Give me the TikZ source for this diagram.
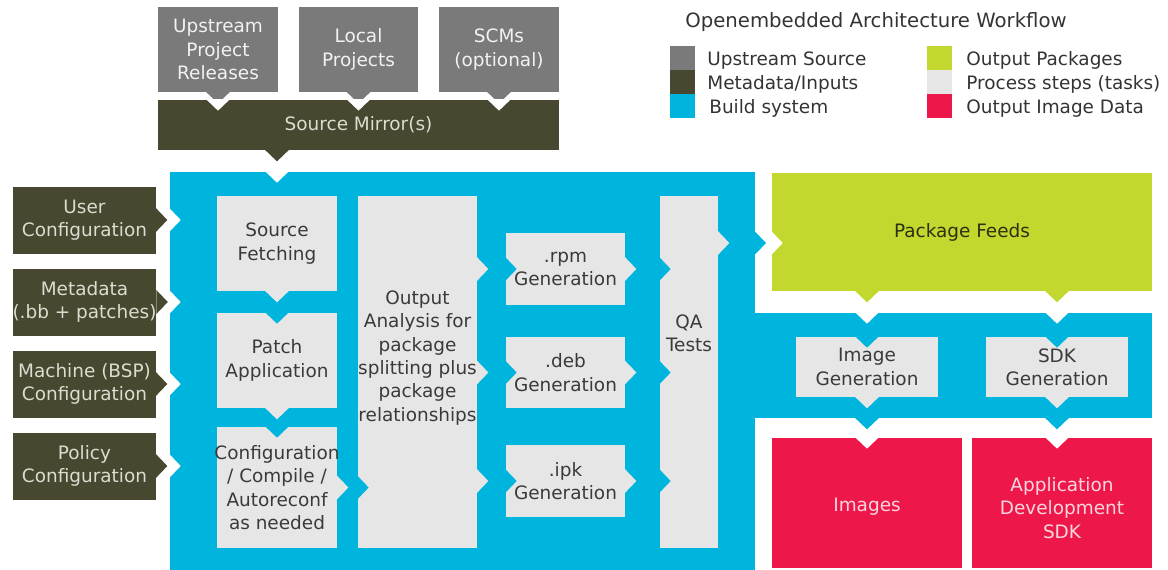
\documentclass[tikz,border=0pt]{standalone}
\usepackage{fontspec}
\setmainfont{DejaVu Sans}

\definecolor{upGray}{HTML}{7A7A7A}
\definecolor{upText}{HTML}{F2F2F2}
\definecolor{metaDark}{HTML}{48472F}
\definecolor{metaText}{HTML}{DCDCD0}
\definecolor{buildBlue}{HTML}{00B5DD}
\definecolor{feedGreen}{HTML}{C2D82F}
\definecolor{feedText}{HTML}{2C3011}
\definecolor{taskGray}{HTML}{E6E6E6}
\definecolor{taskText}{HTML}{3A3A3A}
\definecolor{imgRed}{HTML}{ED1849}
\definecolor{imgText}{HTML}{FCD6DF}
\definecolor{keyText}{HTML}{333333}

% chevron tips: #1 colour, #2 point on the box edge
\newcommand{\tipdown}[2]{\fill[#1] (#2) ++(-12,-0.5) -- ++(24,0) -- ++(-12,11.5) -- cycle;}
\newcommand{\tipright}[2]{\fill[#1] (#2) ++(-0.5,-12) -- ++(0,24) -- ++(11.5,-12) -- cycle;}
% flow: pointer on the source, notch in the target
\newcommand{\flowdown}[4]{\tipdown{#1}{#2}\tipdown{#3}{#4}}
\newcommand{\flowright}[4]{\tipright{#1}{#2}\tipright{#3}{#4}}

\begin{document}
\begin{tikzpicture}[x=0.02cm, y=-0.02cm,
    box/.style={rectangle, inner sep=0pt, align=center, font=\fontsize{10.5}{13.3}\selectfont},
    upstream/.style={box, fill=upGray, text=upText, minimum width=2.4cm, minimum height=1.7cm},
    inputbox/.style={box, fill=metaDark, text=metaText, minimum width=2.86cm, minimum height=1.34cm},
    task/.style={box, fill=taskGray, text=taskText},
    area/.style={box, fill=buildBlue},
    output/.style={box, fill=imgRed, text=imgText, minimum height=2.6cm},
    keybox/.style={rectangle, inner sep=0pt, minimum width=0.5cm, minimum height=0.48cm},
    keytext/.style={box, text=keyText, anchor=base west}
]
    \useasboundingbox (0,0) rectangle (1168,569);

    % Quellen
    \node[upstream] (upr) at (218,49.5) {Upstream\\Project\\Releases};
    \node[upstream] (loc) at (358.5,49.5) {Local\\Projects};
    \node[upstream] (scm) at (499,49.5) {SCMs\\(optional)};
    \node[box, fill=metaDark, text=metaText, minimum width=8.02cm, minimum height=1cm] (mirror) at (358.5,125) {Source Mirror(s)};

    % Eingaben
    \node[inputbox] (ucfg) at (84.5,220) {User\\Configuration};
    \node[inputbox] (meta) at (84.5,302) {Metadata\\(.bb + patches)};
    \node[inputbox] (mach) at (84.5,384) {Machine (BSP)\\Configuration};
    \node[inputbox] (pol) at (84.5,466) {Policy\\Configuration};

    % Build-System
    \node[area, minimum width=11.7cm, minimum height=7.96cm] (build) at (462.5,371) {};
    \node[area, minimum width=8.04cm, minimum height=2.1cm] (band) at (951,365.5) {};
    \coordinate (pkgout) at (755,243);

    % Tasks
    \node[task, minimum width=2.4cm, minimum height=1.9cm] (fetch) at (277,243.5) {Source\\Fetching};
    \node[task, minimum width=2.4cm, minimum height=1.9cm] (patch) at (277,360.5) {Patch\\Application};
    \node[task, minimum width=2.4cm, minimum height=2.42cm,
        label={[box, text=taskText]center:Configuration\\/ Compile /\\Autoreconf\\as needed}] (compile) at (277,487.5) {};
    \node[task, minimum width=2.38cm, minimum height=7.04cm,
        label={[box, text=taskText, yshift=0.28cm]center:Output\\Analysis for\\package\\splitting plus\\package\\relationships}] (analysis) at (417.5,372) {};
    \node[task, minimum width=2.38cm, minimum height=1.44cm] (rpm) at (565.5,269) {.rpm\\Generation};
    \node[task, minimum width=2.38cm, minimum height=1.42cm] (deb) at (565.5,372.5) {.deb\\Generation};
    \node[task, minimum width=2.38cm, minimum height=1.44cm] (ipk) at (565.5,481) {.ipk\\Generation};
    \node[task, minimum width=1.16cm, minimum height=7.04cm,
        label={[box, text=taskText, yshift=0.77cm]center:QA\\Tests}] (qa) at (689,372) {};
    \node[task, minimum width=2.84cm, minimum height=1.2cm] (imggen) at (867,367) {Image\\Generation};
    \node[task, minimum width=2.84cm, minimum height=1.2cm] (sdkgen) at (1057,367) {SDK\\Generation};

    % Ausgaben
    \node[box, fill=feedGreen, text=feedText, minimum width=7.6cm, minimum height=2.36cm] (feeds) at (962,232) {Package Feeds};
    \node[output, minimum width=3.8cm,
        label={[box, text=imgText, yshift=-0.08cm]center:Images}] (images) at (867,503) {};
    \node[output, minimum width=3.6cm,
        label={[box, text=imgText, yshift=-0.1cm]center:Application\\Development\\SDK}] (appsdk) at (1062,503) {};

    % Pfeile
    \flowdown{upGray}{upr.south}{white}{upr.south |- mirror.north}
    \flowdown{upGray}{loc.south}{white}{loc.south |- mirror.north}
    \flowdown{upGray}{scm.south}{white}{scm.south |- mirror.north}
    \flowdown{metaDark}{fetch |- mirror.south}{white}{fetch |- build.north}
    \flowright{metaDark}{ucfg.east}{white}{ucfg -| build.west}
    \flowright{metaDark}{meta.east}{white}{meta -| build.west}
    \flowright{metaDark}{mach.east}{white}{mach -| build.west}
    \flowright{metaDark}{pol.east}{white}{pol -| build.west}
    \flowdown{taskGray}{fetch.south}{buildBlue}{patch.north}
    \flowdown{taskGray}{patch.south}{buildBlue}{compile.north}
    \flowright{taskGray}{compile.east}{buildBlue}{compile.east -| analysis.west}
    \flowright{taskGray}{rpm -| analysis.east}{buildBlue}{rpm.west}
    \flowright{taskGray}{deb -| analysis.east}{buildBlue}{deb.west}
    \flowright{taskGray}{ipk -| analysis.east}{buildBlue}{ipk.west}
    \flowright{taskGray}{rpm.east}{buildBlue}{rpm -| qa.west}
    \flowright{taskGray}{deb.east}{buildBlue}{deb -| qa.west}
    \flowright{taskGray}{ipk.east}{buildBlue}{ipk -| qa.west}
    \tipright{taskGray}{pkgout -| qa.east}
    \flowright{buildBlue}{pkgout}{white}{pkgout -| feeds.west}
    \flowdown{feedGreen}{imggen |- feeds.south}{white}{imggen |- band.north}
    \flowdown{feedGreen}{sdkgen |- feeds.south}{white}{sdkgen |- band.north}
    \tipdown{buildBlue}{imggen.north}
    \tipdown{buildBlue}{sdkgen.north}
    \tipdown{taskGray}{imggen.south}
    \tipdown{taskGray}{sdkgen.south}
    \flowdown{buildBlue}{imggen |- band.south}{white}{imggen |- images.north}
    \flowdown{buildBlue}{sdkgen |- band.south}{white}{sdkgen |- appsdk.north}

    % Legende
    \node[box, text=keyText, anchor=base, font=\fontsize{11.2}{13.3}\selectfont] (title) at (876,27) {Openembedded Architecture Workflow};
    \node[keybox, fill=upGray] (kup) at (682.5,58) {};
    \node[keybox, fill=metaDark] (kmeta) at (682.5,82) {};
    \node[keybox, fill=buildBlue] (kbuild) at (682.5,106) {};
    \node[keybox, fill=feedGreen] (kpkg) at (939.5,58) {};
    \node[keybox, fill=taskGray] (ktask) at (939.5,82) {};
    \node[keybox, fill=imgRed] (kimg) at (939.5,106) {};
    \node[keytext] (kupt) at (707,65) {Upstream Source};
    \node[keytext] (kmetat) at (707,89) {Metadata/Inputs};
    \node[keytext] (kbuildt) at (709,113) {Build system};
    \node[keytext] (kpkgt) at (966,65) {Output Packages};
    \node[keytext] (ktaskt) at (966,89) {Process steps (tasks)};
    \node[keytext] (kimgt) at (966,113) {Output Image Data};
\end{tikzpicture}
\end{document}
